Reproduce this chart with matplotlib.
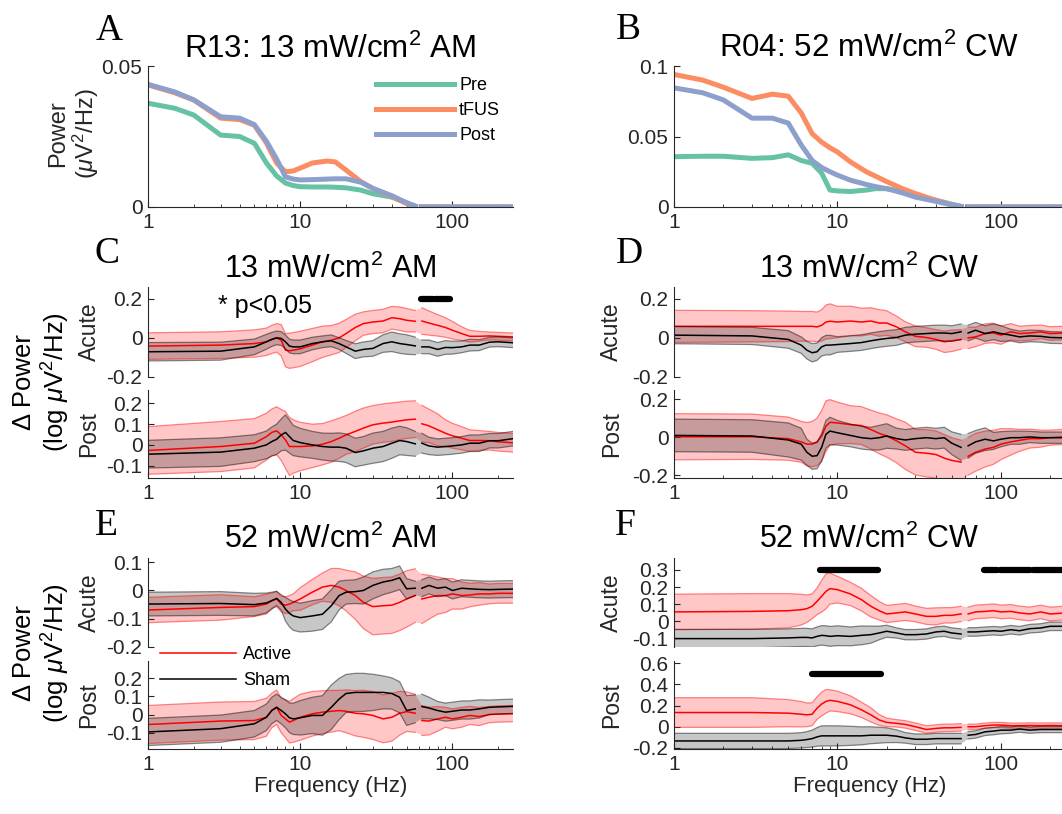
import numpy as np
import matplotlib
matplotlib.use("Agg")
import matplotlib.pyplot as plt
from matplotlib.ticker import FixedLocator, LogLocator, NullFormatter

plt.rcParams['font.family'] = ['Liberation Sans', 'DejaVu Sans']
plt.rcParams['mathtext.fontset'] = 'custom'
plt.rcParams['mathtext.rm'] = 'Liberation Sans'
plt.rcParams['mathtext.it'] = 'Liberation Sans:italic'
plt.rcParams['mathtext.default'] = 'regular'
plt.rcParams['axes.unicode_minus'] = False

#%% example spectra (panels A, B)
nan = np.nan
spec_freq = [1, 1.5, 2, 3, 4, 5, 6, 7, 8, 9, 10, 12, 15, 17, 20, 25, 30, 40, 50, 57, 60, 63, 100, 250]

a_pre = [.0368, .0350, .0326, .0255, .0250, .0226, .0156, .0110, .0085, .0076, .0072, .0071, .0071, .0070,
         .0068, .0060, .0047, .0035, .0015, .0003, nan, 0, 0, 0]
a_tfus = [.0433, .0405, .0379, .0315, .0310, .0290, .0227, .0156, .0125, .0128, .0138, .0156, .0163, .0160,
          .0131, .0090, .0066, .0037, .0012, .0002, nan, 0, 0, 0]
a_post = [.0435, .0408, .0380, .0320, .0315, .0292, .0233, .0170, .0107, .0099, .0096, .0097, .0099, .0100,
          .0100, .0088, .0066, .0040, .0015, .0003, nan, 0, 0, 0]

b_pre = [.0357, .0360, .0360, .0345, .0350, .0370, .0330, .0310, .0240, .0120, .0114, .0110, .0120, .0130,
         .0130, .0110, .0080, .0048, .0020, .0005, nan, 0, 0, 0]
b_tfus = [.0940, .0900, .0850, .0770, .0800, .0786, .0667, .0520, .0460, .0420, .0390, .0320, .0250, .0220,
          .0180, .0130, .0095, .0048, .0015, .0003, nan, 0, 0, 0]
b_post = [.0845, .0810, .0760, .0630, .0630, .0595, .0440, .0330, .0280, .0250, .0226, .0190, .0160, .0145,
          .0130, .0100, .0070, .0040, .0015, .0003, nan, 0, 0, 0]

#%% change in power (panels C-F), mean and sem
dfreq = [1, 3, 5, 6, 6.5, 7, 7.5, 8, 8.5, 9, 10, 12, 14, 16, 18, 20, 23, 26, 30, 35,
         40, 45, 50, 57, 60, 63, 70, 80, 90, 100, 115, 130, 150, 175, 200, 250]

# C: 13 mW/cm2 AM
ca_act = [-.042, -.037, -.029, -.020, -.008, .000, -.012, -.063, -.066, -.063, -.056, -.037, -.020, -.012, .000, .022,
          .053, .073, .081, .086, .103, .098, .090, .085, nan, .086, .076, .064, .053, .039, .022, .008, .008, .010, .008, .005]
ca_act_err = [.068, .068, .070, .070, .072, .073, .080, .085, .090, .090, .090, .085, .080, .075, .075, .072,
              .068, .060, .059, .060, .058, .060, .060, .055, nan, .068, .062, .055, .050, .045, .035, .030, .025, .020, .020, .020]
ca_sham = [-.071, -.068, -.046, -.020, -.008, .000, -.003, -.020, -.042, -.046, -.046, -.029, -.020, -.015, -.029, -.046,
           -.068, -.059, -.054, -.029, -.020, -.029, -.034, -.041, nan, -.046, -.046, -.059, -.049, -.050, -.046, -.037, -.037, -.022, -.020, -.025]
ca_sham_err = [.047, .046, .040, .038, .036, .035, .035, .035, .035, .035, .035, .032, .030, .030, .030, .033,
               .038, .038, .040, .045, .050, .050, .050, .045, nan, .035, .035, .035, .035, .033, .030, .030, .028, .025, .025, .025]

cp_act = [-.027, -.008, .008, .040, .060, .068, .048, .024, -.008, -.008, -.008, -.005, .003, .016, .032, .048,
          .065, .081, .097, .105, .110, .116, .121, .124, nan, .102, .092, .073, .056, .044, .032, .021, .021, .020, .015, .010]
cp_act_err = [.115, .121, .119, .113, .113, .116, .123, .137, .140, .129, .117, .105, .100, .100, .097, .094,
              .097, .097, .093, .093, .093, .091, .090, .089, nan, .089, .081, .077, .065, .060, .056, .052, .048, .045, .045, .045]
cp_sham = [-.045, -.035, -.016, .000, .016, .027, .048, .060, .040, .021, .011, .000, -.008, -.011, -.011, -.016,
           -.037, -.029, -.016, -.008, .008, .021, .016, .005, nan, .008, -.005, -.011, -.008, -.005, .000, .008, .008, .020, .020, .030]
cp_sham_err = [.067, .069, .065, .067, .070, .073, .077, .085, .080, .073, .069, .065, .065, .067, .069, .069,
               .069, .069, .073, .073, .073, .069, .067, .060, nan, .048, .042, .040, .040, .040, .040, .040, .040, .035, .035, .035]

# D: 13 mW/cm2 CW
da_act = [.059, .059, .059, .059, .059, .059, .056, .064, .081, .085, .081, .086, .081, .086, .076, .076,
          .056, .031, .008, .002, -.008, -.020, -.015, -.008, nan, .000, .005, .022, .025, .014, .031, .022, .025, .031, .022, .025]
da_act_err = [.082, .080, .078, .076, .076, .076, .076, .080, .087, .089, .080, .076, .071, .068, .068, .063,
              .055, .051, .053, .050, .050, .055, .055, .050, nan, .055, .050, .050, .050, .047, .042, .038, .038, .035, .035, .035]
da_sham = [.014, .010, -.008, -.037, -.063, -.076, -.071, -.046, -.037, -.037, -.034, -.029, -.024, -.015, -.008, -.003,
           .002, .014, .019, .022, .025, .025, .022, .031, nan, .025, .039, .022, .031, .022, .014, .005, .010, .008, .002, .000]
da_sham_err = [.044, .044, .045, .042, .045, .047, .044, .047, .050, .050, .040, .040, .040, .040, .040, .040,
               .040, .040, .040, .040, .040, .040, .040, .040, nan, .040, .040, .040, .040, .040, .030, .030, .030, .030, .030, .030]

dp_act = [.003, .003, -.007, -.024, -.036, -.036, -.024, .007, .059, .079, .076, .067, .062, .041, .021, .007,
          -.019, -.045, -.079, -.084, -.091, -.110, -.122, -.131, nan, -.100, -.079, -.062, -.053, -.036, -.024, -.016, -.007, -.007, -.002, .003]
dp_act_err = [.122, .120, .114, .108, .114, .120, .125, .134, .134, .120, .110, .100, .100, .103, .108, .112,
              .116, .125, .120, .125, .125, .125, .120, .116, nan, .100, .100, .095, .090, .082, .070, .058, .050, .045, .040, .040]
dp_sham = [.010, .007, -.014, -.036, -.079, -.100, -.097, -.053, .016, .033, .024, .010, -.002, -.007, -.002, .007,
           -.007, -.014, -.007, -.002, -.007, -.002, -.031, -.053, nan, -.045, -.024, -.010, -.019, -.010, -.002, -.002, .002, -.002, -.002, -.002]
dp_sham_err = [.086, .086, .090, .084, .069, .069, .069, .073, .073, .073, .065, .060, .060, .060, .065, .065,
               .055, .055, .055, .055, .055, .055, .060, .069, nan, .065, .060, .060, .045, .040, .035, .035, .030, .030, .030, .030]

# E: 52 mW/cm2 AM
ea_act = [-.069, -.060, -.057, -.048, -.036, -.030, -.048, -.052, -.048, -.042, -.030, -.006, .012, .018, .012, .000,
          -.018, -.042, -.057, -.054, -.052, -.042, -.030, -.018, nan, -.030, -.024, -.018, -.018, -.012, -.018, -.016, -.012, -.012, -.010, -.010]
ea_act_err = [.045, .045, .035, .035, .027, .027, .027, .030, .030, .030, .040, .045, .050, .060, .066, .072,
              .084, .093, .100, .100, .100, .100, .100, .095, nan, .087, .078, .066, .060, .054, .048, .042, .040, .035, .035, .035]
ea_sham = [-.048, -.046, -.050, -.044, -.036, -.028, -.042, -.066, -.081, -.090, -.096, -.090, -.084, -.054, -.018, -.006,
           -.004, .000, .018, .030, .036, .045, .006, .008, nan, .008, .018, .008, .012, .000, .008, .006, .004, .003, .004, .005]
ea_sham_err = [.042, .042, .040, .035, .030, .025, .027, .042, .048, .051, .051, .054, .054, .057, .051, .042,
               .042, .048, .048, .045, .042, .042, .036, .025, nan, .030, .030, .030, .030, .030, .030, .030, .030, .030, .030, .030]

ep_act = [-.055, -.036, -.033, -.015, .022, .040, -.005, -.024, -.042, -.033, -.015, .004, .013, .018, .022, .018,
          .007, .004, -.005, -.024, -.015, .007, .016, .007, nan, -.033, -.036, -.024, -.015, -.024, -.015, -.005, -.011, .000, .003, .005]
ep_act_err = [.105, .105, .105, .105, .095, .095, .095, .105, .115, .120, .127, .123, .118, .115, .111, .118,
              .125, .130, .132, .132, .132, .121, .109, .105, nan, .082, .077, .068, .055, .055, .055, .050, .050, .045, .045, .045]
ep_sham = [-.096, -.078, -.051, -.015, .022, .040, .022, .004, -.018, -.024, -.018, -.005, -.005, .040, .085, .116,
           .122, .122, .122, .122, .116, .095, .022, .031, nan, .044, .036, .022, .013, .018, .025, .025, .031, .040, .042, .045]
ep_sham_err = [.075, .075, .073, .073, .073, .073, .073, .077, .082, .086, .095, .100, .109, .123, .114, .105,
               .105, .105, .100, .091, .086, .086, .082, .077, nan, .068, .060, .050, .050, .050, .050, .050, .050, .040, .040, .040]

# F: 52 mW/cm2 CW
fa_act = [.055, .058, .062, .068, .074, .088, .117, .146, .175, .191, .185, .160, .127, .088, .062, .043,
          .049, .055, .043, .029, .029, .035, .035, .043, nan, .043, .055, .058, .062, .055, .058, .049, .043, .055, .043, .049]
fa_act_err = [.104, .104, .100, .090, .080, .073, .078, .093, .102, .090, .078, .068, .066, .063, .054, .050,
              .050, .050, .046, .047, .050, .045, .045, .045, nan, .040, .040, .040, .040, .040, .040, .040, .040, .040, .040, .040]
fa_sham = [-.101, -.101, -.097, -.094, -.094, -.097, -.088, -.082, -.084, -.088, -.084, -.088, -.082, -.078, -.068, -.058,
           -.068, -.078, -.078, -.074, -.062, -.058, -.068, -.074, nan, -.062, -.062, -.058, -.055, -.058, -.049, -.055, -.043, -.039, -.029, -.029]
fa_sham_err = [.054, .054, .053, .053, .053, .053, .055, .057, .058, .058, .058, .055, .055, .050, .040, .035,
               .030, .030, .030, .030, .030, .030, .030, .030, nan, .025, .025, .025, .025, .025, .025, .025, .025, .025, .025, .025]

fp_act = [.134, .134, .128, .118, .112, .118, .175, .214, .239, .249, .239, .207, .160, .112, .064, .041,
          .032, .022, .000, -.026, -.016, -.010, -.010, -.006, nan, .000, .000, .010, .016, .016, .010, .010, .012, .010, .012, .010]
fp_act_err = [.140, .140, .128, .120, .112, .108, .107, .112, .112, .100, .096, .085, .072, .067, .051, .040,
              .035, .035, .035, .035, .035, .035, .035, .035, nan, .025, .025, .025, .025, .025, .025, .025, .025, .025, .025, .025]
fp_sham = [-.134, -.134, -.134, -.128, -.121, -.112, -.096, -.086, -.086, -.086, -.086, -.086, -.086, -.080, -.080, -.080,
           -.089, -.105, -.118, -.118, -.112, -.112, -.112, -.112, nan, -.080, -.073, -.048, -.041, -.032, -.032, -.022, -.032, -.026, -.026, -.026]
fp_sham_err = [.072, .072, .072, .072, .075, .080, .088, .095, .095, .095, .095, .090, .085, .080, .075, .070,
               .060, .050, .050, .050, .050, .050, .050, .050, nan, .035, .035, .035, .035, .035, .030, .030, .030, .030, .030, .030]

# frequency ranges with p<0.05 (start Hz, end Hz)
sig_c_acute = [(62, 75), (77, 97)]
sig_f_acute = [(7.8, 17.7), (79, 94), (98, 150), (157, 250)]
sig_f_post = [(7.0, 18.4)]

#%% layout (pixels of the 1062x814 image)
W, H = 1062, 814
fig = plt.figure(figsize=(W / 100, H / 100), dpi=100)
GRAY = '#262626'
TICK_FS = 15

def px_rect(x0, x1, ytop, ybot):
    return [x0 / W, 1 - ybot / H, (x1 - x0) / W, (ybot - ytop) / H]

def fxy(x, y):
    return x / W, 1 - y / H

LEFT = (148, 513)
RIGHT = (674, 1066)
ROW_A = (66, 207)
ROW_CD = [(287, 377), (390, 478)]
ROW_EF = [(558, 647), (661, 749)]


def style_axes(ax, yticks, ylim, show_x):
    ax.set_xscale('log')
    ax.set_xlim(1, 250)
    ax.set_ylim(*ylim)
    ax.yaxis.set_major_locator(FixedLocator(yticks))
    ax.set_yticklabels(['%g' % t for t in yticks])
    ax.xaxis.set_major_locator(FixedLocator([1, 10, 100]))
    ax.xaxis.set_minor_locator(LogLocator(base=10, subs=np.arange(2, 10)))
    ax.xaxis.set_minor_formatter(NullFormatter())
    ax.set_xticklabels(['1', '10', '100'])
    for s in ['top', 'right']:
        ax.spines[s].set_visible(False)
    for s in ['left', 'bottom']:
        ax.spines[s].set_color(GRAY)
        ax.spines[s].set_linewidth(0.8)
    ax.tick_params(which='both', direction='in', colors=GRAY, labelsize=TICK_FS)
    ax.tick_params(which='major', length=4.5, width=0.8)
    ax.tick_params(which='minor', length=2.5, width=0.6)
    ax.tick_params(axis='y', pad=4)
    ax.tick_params(axis='x', pad=4)
    if not show_x:
        ax.spines['bottom'].set_visible(False)
        ax.tick_params(axis='x', which='both', bottom=False, labelbottom=False)
    ax.patch.set_alpha(0)


def band(ax, m, e, color):
    f = np.array(dfreq)
    m = np.array(m)
    e = np.array(e)
    ok = np.isfinite(m)
    ax.fill_between(f[ok], (m - e)[ok], (m + e)[ok], facecolor=color, alpha=0.22, linewidth=0)
    ax.plot(f, m - e, color=color, alpha=0.45, lw=0.9)
    ax.plot(f, m + e, color=color, alpha=0.45, lw=0.9)
    return ax.plot(f, m, color=color, lw=1.1)[0]


def sig(ax, ranges, y):
    for s, e in ranges:
        ax.plot([s, e], [y, y], color='k', lw=4.5, solid_capstyle='round', clip_on=False)


def letter(x, y, t):
    fig.text(*fxy(x, y), t, fontsize=27, family='Liberation Serif', ha='left', va='baseline')


def title(xc, y, t, fs=22):
    fig.text(*fxy(xc, y), t, fontsize=fs, ha='center', va='baseline')


# --- A and B: example spectra
spec_sets = [(LEFT, a_pre, a_tfus, a_post, [0, 0.05], (0, 0.05)),
             (RIGHT, b_pre, b_tfus, b_post, [0, 0.05, 0.1], (0, 0.1))]
axA = None
for (cols, pre, tfus, post, yt, yl) in spec_sets:
    ax = fig.add_axes(px_rect(cols[0], cols[1], *ROW_A))
    ax.plot(spec_freq, pre, color='#66c2a5', lw=3.6, label='Pre')
    ax.plot(spec_freq, tfus, color='#fc8d62', lw=3.6, label='tFUS')
    ax.plot(spec_freq, post, color='#8da0cb', lw=3.6, label='Post')
    style_axes(ax, yt, yl, True)
    if axA is None:
        axA = ax

axA.legend(loc='upper left', bbox_to_anchor=fxy(376, 77), bbox_transform=fig.transFigure,
           frameon=False, fontsize=13, handlelength=4.3, handletextpad=0.3, labelspacing=0.45,
           borderpad=0, borderaxespad=0)
fig.text(*fxy(74, 134), 'Power\n($\\mathit{\\mu}$V$^2$/Hz)', rotation=90, ha='center', va='center',
         multialignment='center', fontsize=17, color=GRAY, linespacing=1.1)

# --- C to F: change in power
panels = [
    (LEFT, ROW_CD, (ca_act, ca_act_err, ca_sham, ca_sham_err), (cp_act, cp_act_err, cp_sham, cp_sham_err),
     ([-0.2, 0, 0.2], (-0.2, 0.26)), ([-0.1, 0, 0.1, 0.2], (-0.16, 0.265)), False),
    (RIGHT, ROW_CD, (da_act, da_act_err, da_sham, da_sham_err), (dp_act, dp_act_err, dp_sham, dp_sham_err),
     ([-0.2, 0, 0.2], (-0.2, 0.26)), ([-0.2, 0, 0.2], (-0.215, 0.25)), False),
    (LEFT, ROW_EF, (ea_act, ea_act_err, ea_sham, ea_sham_err), (ep_act, ep_act_err, ep_sham, ep_sham_err),
     ([-0.2, -0.1, 0, 0.1], (-0.2, 0.115)), ([-0.1, 0, 0.1, 0.2], (-0.19, 0.295)), True),
    (RIGHT, ROW_EF, (fa_act, fa_act_err, fa_sham, fa_sham_err), (fp_act, fp_act_err, fp_sham, fp_sham_err),
     ([-0.1, 0, 0.1, 0.2, 0.3], (-0.15, 0.37)), ([-0.2, 0, 0.2, 0.4, 0.6], (-0.21, 0.62)), True),
]

axes = []
handles = []
for cols, rows, acute, post, yac, ypo, bottom_row in panels:
    pair = []
    for (top, bot), series, (yt, yl), name, show_x in [(rows[0], acute, yac, 'Acute', False),
                                                        (rows[1], post, ypo, 'Post', True)]:
        ax = fig.add_axes(px_rect(cols[0], cols[1], top, bot))
        h1 = band(ax, series[0], series[1], 'red')
        h2 = band(ax, series[2], series[3], 'black')
        style_axes(ax, yt, yl, show_x)
        ax.set_ylabel(name, fontsize=16.5, color=GRAY)
        ax.yaxis.set_label_coords(-0.13, 0.5)
        if show_x and bottom_row:
            ax.set_xlabel('Frequency (Hz)', fontsize=16, color=GRAY, labelpad=2)
        pair.append(ax)
        handles.append((h1, h2))
    axes.append(pair)

sig(axes[0][0], sig_c_acute, 0.2)
sig(axes[3][0], sig_f_acute, 0.3)
sig(axes[3][1], sig_f_post, 0.5)

fig.text(*fxy(218, 313), '* p<0.05', fontsize=18, ha='left', va='baseline')

# legend of panel E
axes[2][1].legend(list(handles[5]), ['Active', 'Sham'], loc='upper left', bbox_to_anchor=fxy(160, 646),
                  bbox_transform=fig.transFigure, frameon=False, fontsize=13, handlelength=4.2,
                  handletextpad=0.4, labelspacing=0.5, borderpad=0, borderaxespad=0)

for yc in [382, 653]:
    fig.text(*fxy(42, yc), 'Δ Power\n(log $\\mathit{\\mu}$V$^2$/Hz)', rotation=90, ha='center', va='center',
             multialignment='center', fontsize=18.5, color='black', linespacing=1.15)

# titles and panel letters
title(330, 58, 'R13: 13 mW/cm$^2$ AM', 22.5)
title(869, 57, 'R04: 52 mW/cm$^2$ CW', 22.5)
title(330, 278, '13 mW/cm$^2$ AM')
title(869, 278, '13 mW/cm$^2$ CW')
title(330, 548, '52 mW/cm$^2$ AM')
title(869, 548, '52 mW/cm$^2$ CW')

letter(96, 40, 'A')
letter(616, 39, 'B')
letter(95, 263, 'C')
letter(616, 263, 'D')
letter(95, 535, 'E')
letter(615, 535, 'F')

fig.savefig('out.png', dpi=100)
